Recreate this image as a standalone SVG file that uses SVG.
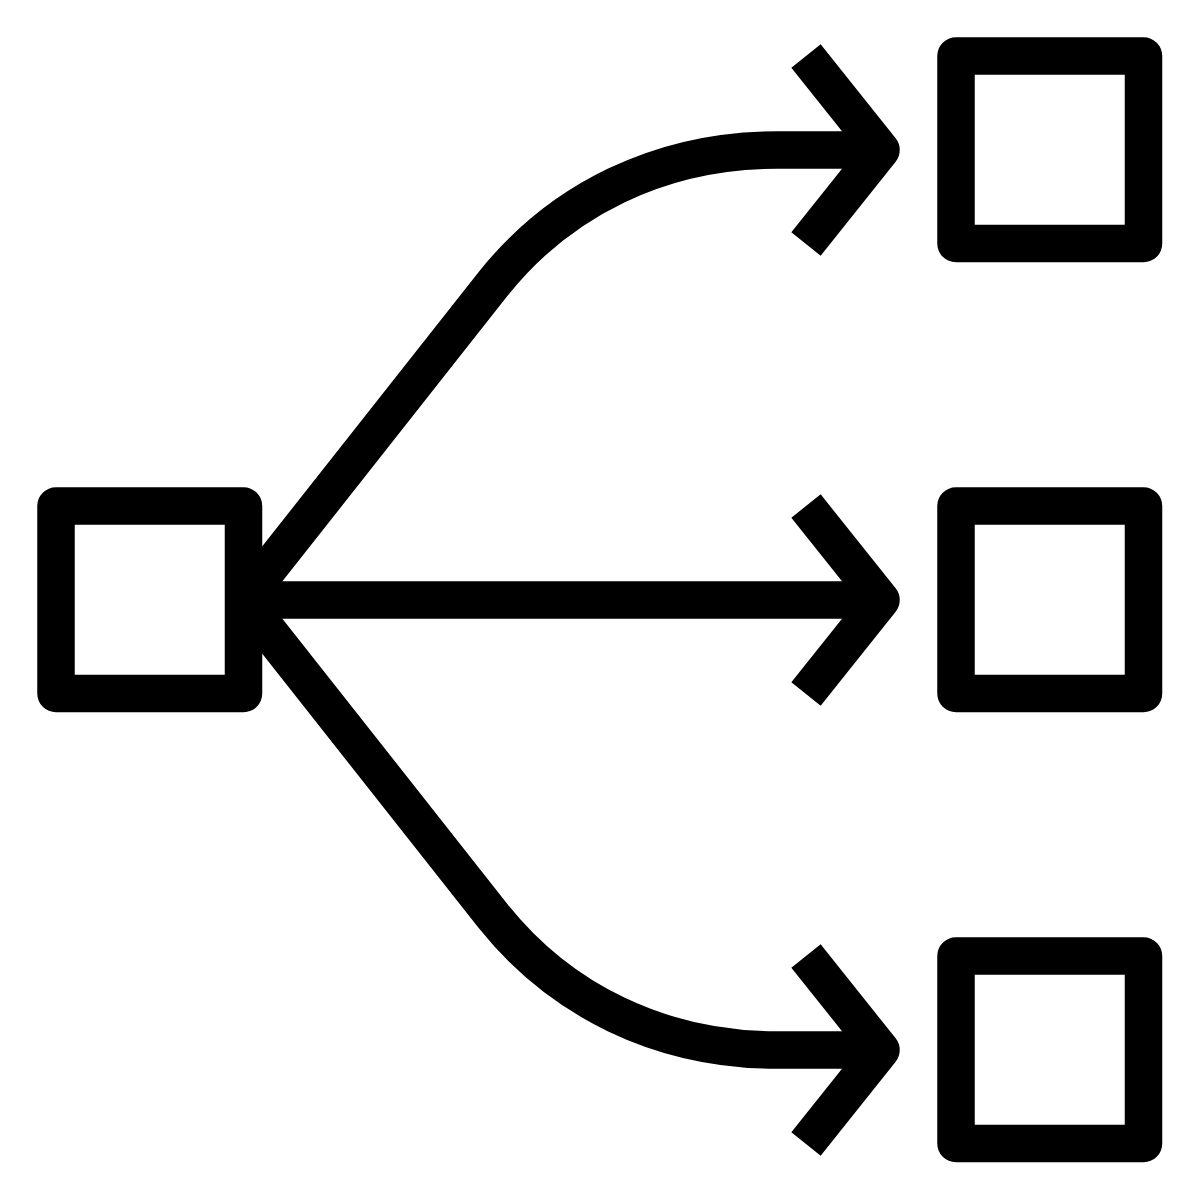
<svg xmlns="http://www.w3.org/2000/svg" width="1200" height="1200" viewBox="0 0 1200 1200">
<style>
.s{fill:none;stroke:#000;stroke-width:37.5;stroke-linejoin:round;stroke-linecap:butt}
</style>
<rect width="1200" height="1200" fill="#fff"/>
<g id="connectors">
<path class="s" d="M258,582 L493,284 C560,200 660,150 777,150 L880,150"/>
<path class="s" d="M262,600 L880,600"/>
<path class="s" d="M258,618 L493,916 C560,1000 660,1050 777,1050 L880,1050"/>
<polyline class="s" points="806,56 881,150 806,244"/>
<polyline class="s" points="806,506 881,600 806,694"/>
<polyline class="s" points="806,956 881,1050 806,1144"/>
</g>
<g id="source"><rect class="s" x="56" y="506" width="187.5" height="187.5"/></g>
<g id="target1"><rect class="s" x="956" y="56" width="187.5" height="187.5"/></g>
<g id="target2"><rect class="s" x="956" y="506" width="187.5" height="187.5"/></g>
<g id="target3"><rect class="s" x="956" y="956" width="187.5" height="187.5"/></g>
</svg>
